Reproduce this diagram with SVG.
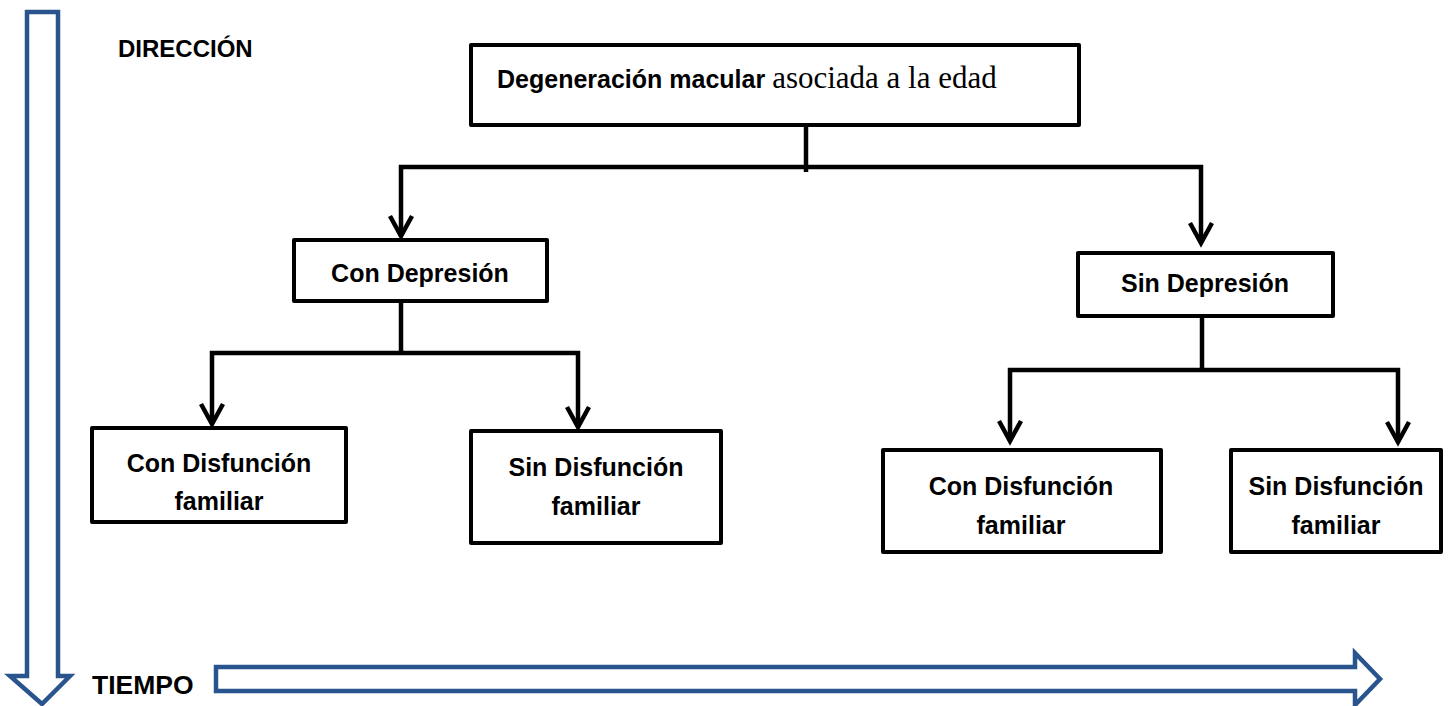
<svg xmlns="http://www.w3.org/2000/svg" width="1452" height="706" viewBox="0 0 1452 706">
<style>
.box{fill:#fff;stroke:#000;stroke-width:4;stroke-linejoin:round}
.lbl{font-family:"Liberation Sans",Arial,sans-serif;font-weight:bold;font-size:25px;fill:#000;text-anchor:middle}
.ser{font-family:"Liberation Serif","Times New Roman",serif;font-weight:normal;font-size:31px}
.ax{font-family:"Liberation Sans",Arial,sans-serif;font-weight:bold;font-size:24px;fill:#000}
.con{fill:none;stroke:#000;stroke-width:4.5}
.blue{fill:#fff;stroke:#2a548e;stroke-width:4.5;stroke-linejoin:miter}
</style>
<defs>
<marker id="arr" markerUnits="userSpaceOnUse" markerWidth="30" markerHeight="30" viewBox="-24 -15 30 30" refX="0" refY="0" orient="auto">
<path d="M-20,-11 L0,0 L-20,11" fill="none" stroke="#000" stroke-width="4.5" stroke-linejoin="miter"/>
</marker>
</defs>
<g id="axes">
<path class="blue" d="M27,12 L58,12 L58,676 L70,676 L42,704 L10,676 L27,676 Z"/>
<path class="blue" d="M216,667 L1355,667 L1355,653 L1380,679 L1355,705 L1355,691 L216,691 Z"/>
<text class="ax" x="118" y="57">DIRECCIÓN</text>
<text class="ax" x="92" y="694" style="font-size:26.5px">TIEMPO</text>
</g>
<g id="connectors">
<path class="con" d="M806,125 V172"/>
<path class="con" d="M806,167 H401 V236" marker-end="url(#arr)"/>
<path class="con" d="M806,167 H1201 V243" marker-end="url(#arr)"/>
<path class="con" d="M401,301 V353"/>
<path class="con" d="M401,353 H212 V424" marker-end="url(#arr)"/>
<path class="con" d="M401,353 H578 V427" marker-end="url(#arr)"/>
<path class="con" d="M1202,316 V370"/>
<path class="con" d="M1202,370 H1010 V441" marker-end="url(#arr)"/>
<path class="con" d="M1202,370 H1398 V442" marker-end="url(#arr)"/>
</g>
<g id="n-root">
<rect class="box" x="471" y="45" width="608" height="80"/>
<text class="lbl" x="497" y="88" style="text-anchor:start">Degeneración macular <tspan class="ser">asociada a la edad</tspan></text>
</g>
<g id="n-con-dep">
<rect class="box" x="294" y="240" width="253" height="61"/>
<text class="lbl" x="420" y="282">Con Depresión</text>
</g>
<g id="n-sin-dep">
<rect class="box" x="1078" y="253" width="255" height="63"/>
<text class="lbl" x="1205" y="292">Sin Depresión</text>
</g>
<g id="n-con-dep-con-df">
<rect class="box" x="92" y="428" width="254" height="94"/>
<text class="lbl" x="219" y="472">Con Disfunción</text>
<text class="lbl" x="219" y="510">familiar</text>
</g>
<g id="n-con-dep-sin-df">
<rect class="box" x="471" y="431" width="250" height="112"/>
<text class="lbl" x="596" y="476">Sin Disfunción</text>
<text class="lbl" x="596" y="515">familiar</text>
</g>
<g id="n-sin-dep-con-df">
<rect class="box" x="883" y="450" width="278" height="102"/>
<text class="lbl" x="1021" y="495">Con Disfunción</text>
<text class="lbl" x="1021" y="534">familiar</text>
</g>
<g id="n-sin-dep-sin-df">
<rect class="box" x="1231" y="450" width="210" height="102"/>
<text class="lbl" x="1336" y="495">Sin Disfunción</text>
<text class="lbl" x="1336" y="534">familiar</text>
</g>
</svg>
